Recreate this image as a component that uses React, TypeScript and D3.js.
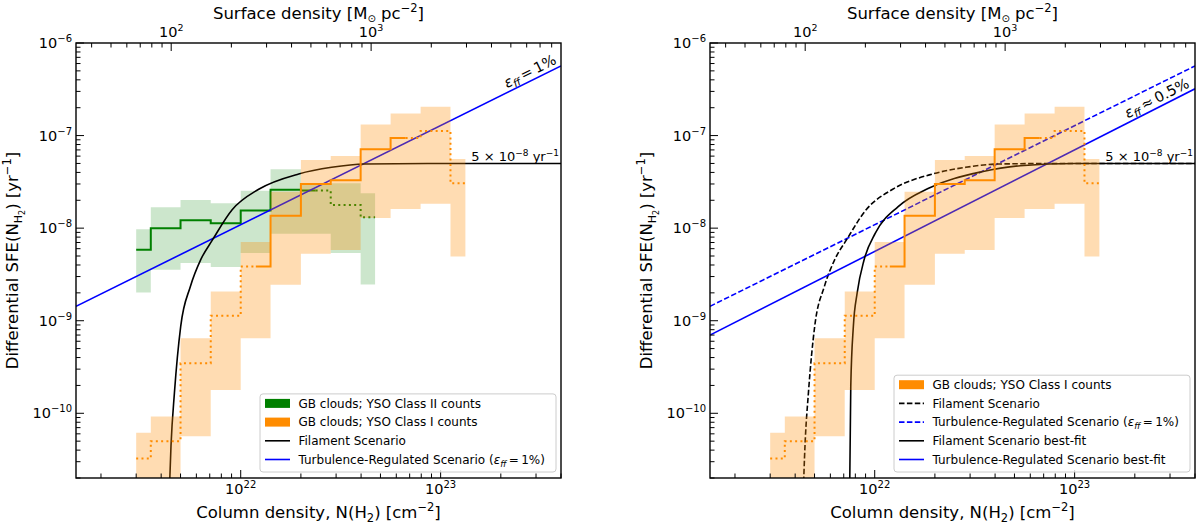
import React from "react";
import * as d3 from "d3";

// axis ranges
const X_DOMAIN: [number, number] = [1.5e21, 4e23];
const Y_DOMAIN: [number, number] = [2e-11, 1e-6];
const N_PER_SIGMA = 4.49e19; // cm^-2 per Msun pc^-2

// GB clouds; YSO Class II counts
const CLASS2_EDGES = [3.0e21, 3.55e21, 5.0e21, 7.08e21, 1.0e22, 1.41e22, 2.0e22, 2.82e22, 3.98e22, 4.7e22];
const CLASS2_SFE = [5.83e-9, 1.0e-8, 1.22e-8, 1.13e-8, 1.55e-8, 2.6e-8, 2.55e-8, 1.78e-8, 1.31e-8];
const CLASS2_LO = [2.02e-9, 3.56e-9, 4.2e-9, 3.8e-9, 5.4e-9, 8.7e-9, 8.7e-9, 5.4e-9, 2.46e-9];
const CLASS2_HI = [9.75e-9, 1.68e-8, 2.02e-8, 1.86e-8, 2.54e-8, 4.33e-8, 3.05e-8, 3.05e-8, 2.38e-8];
const CLASS2_SOLID: [number, number] = [3.0e21, 2.37e22];

// GB clouds; YSO Class I counts
const CLASS1_EDGES = [3.0e21, 3.55e21, 5.0e21, 7.08e21, 1.0e22, 1.41e22, 2.0e22, 2.82e22, 3.98e22, 5.62e22, 7.94e22, 1.12e23, 1.33e23];
const CLASS1_SFE = [3.24e-11, 5.0e-11, 3.47e-10, 1.13e-9, 3.86e-9, 1.36e-8, 3.0e-8, 3.3e-8, 7.1e-8, 9.4e-8, 1.12e-7, 3.05e-8];
const CLASS1_LO = [1e-11, 1e-11, 5.64e-11, 1.78e-10, 6.46e-10, 2.45e-9, 5.3e-9, 5.8e-9, 1.29e-8, 1.61e-8, 1.83e-8, 4.94e-9];
const CLASS1_HI = [6.18e-11, 9.26e-11, 6.46e-10, 2.07e-9, 7.1e-9, 2.48e-8, 5.45e-8, 6.0e-8, 1.32e-7, 1.73e-7, 2.05e-7, 5.6e-8];
const CLASS1_SOLID: [number, number] = [1.19e22, 6.68e22];

// turbulence-regulated scenario (straight in log-log)
const TURB_N = [1.5e21, 4e23];
const TURB_SFE = [1.43e-9, 5.65e-7];
const TURB_FIT_SFE = [7.0e-10, 3.2e-7];

// filament scenario
const FIL_N = [4.37e21, 4.48e21, 4.66e21, 5.01e21, 5.6e21, 6.31e21, 7.21e21, 9.06e21, 1.23e22, 1.95e22, 2.85e22, 4.18e22, 8.63e22, 4e23];
const FIL_SFE = [1e-11, 4.47e-11, 1.66e-10, 8.7e-10, 2.34e-9, 4.57e-9, 7.41e-9, 1.58e-8, 2.63e-8, 3.85e-8, 4.54e-8, 4.93e-8, 5.0e-8, 5.0e-8];
const FIL_FIT_N = [7.48e21, 7.59e21, 7.82e21, 8.17e21, 8.85e21, 1.007e22, 1.31e22, 1.86e22, 3.44e22, 5.35e22, 1e23, 4e23];
const FIL_FIT_SFE = [1e-11, 1.96e-10, 8.7e-10, 2.0e-9, 4.55e-9, 8.83e-9, 1.71e-8, 2.7e-8, 4.07e-8, 4.73e-8, 5.0e-8, 5.0e-8];

const PLATEAU = 5e-8;
const TICK_POWERS_SIGMA = [2, 3];

const GREEN = "#008000";
const ORANGE = "#ff8c00";
const BLUE = "#0000ff";
const FONT = "DejaVu Sans, sans-serif";

const TOP = 43;
const BOTTOM = 478;
const PW = 485;

type Pt = [number, number];

function stepPts(edges: number[], vals: number[]): Pt[] {
  return vals.flatMap((v, i) => [[edges[i], v], [edges[i + 1], v]] as Pt[]);
}

function clipSteps(pts: Pt[], lo: number, hi: number): Pt[] {
  const out: Pt[] = [];
  for (let i = 0; i < pts.length - 1; i++) {
    const [xa, ya] = pts[i];
    const [xb, yb] = pts[i + 1];
    if (xa === xb) {
      if (xa >= lo && xa <= hi) out.push([xa, ya], [xb, yb]);
    } else {
      const a = Math.max(xa, lo);
      const b = Math.min(xb, hi);
      if (a < b) out.push([a, ya], [b, ya]);
    }
  }
  return out;
}

const isMajor = (t: number) => Math.abs(Math.log10(t) - Math.round(Math.log10(t))) < 1e-6;

function Pow10({ t, sup = 10, raise = 6 }: { t: number; sup?: number; raise?: number }) {
  const e = Math.round(Math.log10(t));
  return (
    <>
      <tspan>10</tspan>
      <tspan dy={-raise} fontSize={sup}>{e < 0 ? "\u2212" + -e : String(e)}</tspan>
    </>
  );
}

type Curve = { n: number[]; sfe: number[]; color: string; dash?: string; smooth?: boolean };
type LegendItem = { kind: "patch" | "line"; color: string; dash?: string; label: React.ReactNode };

const epsTurb = (
  <>
    (<tspan fontStyle="italic">ε</tspan>
    <tspan dy={3} fontSize={8.5} fontStyle="italic">ff</tspan>
    <tspan dy={-3}>{"\u2009=\u20091%)"}</tspan>
  </>
);

function Panel({
  idx,
  left,
  showClass2,
  curves,
  slope,
  slopeText,
  legend,
  legendWidth,
}: {
  idx: number;
  left: number;
  showClass2: boolean;
  curves: Curve[];
  slope: { sfe: number[]; at: number };
  slopeText: string;
  legend: LegendItem[];
  legendWidth: number;
}) {
  const right = left + PW;
  const x = d3.scaleLog().domain(X_DOMAIN).range([left, right]);
  const y = d3.scaleLog().domain(Y_DOMAIN).range([BOTTOM, TOP]);
  const sig = d3
    .scaleLog()
    .domain([X_DOMAIN[0] / N_PER_SIGMA, X_DOMAIN[1] / N_PER_SIGMA])
    .range([left, right]);

  const line = d3.line<Pt>().x((d) => x(d[0])).y((d) => y(d[1]));
  const smooth = d3.line<Pt>().x((d) => x(d[0])).y((d) => y(d[1])).curve(d3.curveMonotoneX);
  const area = d3
    .area<{ n: number; lo: number; hi: number }>()
    .x((d) => x(d.n))
    .y0((d) => y(d.lo))
    .y1((d) => y(d.hi));

  const band = (edges: number[], lo: number[], hi: number[]) =>
    area(lo.flatMap((l, i) => [{ n: edges[i], lo: l, hi: hi[i] }, { n: edges[i + 1], lo: l, hi: hi[i] }]));

  const steps = (edges: number[], vals: number[], solid: [number, number], color: string) => {
    const pts = stepPts(edges, vals);
    const parts = [
      { p: clipSteps(pts, -Infinity, solid[0]), dash: "2,3.3" },
      { p: clipSteps(pts, solid[0], solid[1]), dash: undefined },
      { p: clipSteps(pts, solid[1], Infinity), dash: "2,3.3" },
    ];
    return parts
      .filter((s) => s.p.length > 1)
      .map((s, i) => (
        <path key={i} d={line(s.p)!} fill="none" stroke={color} strokeWidth={2} strokeDasharray={s.dash} />
      ));
  };

  const clipId = `clip${idx}`;
  const xt = x.ticks();
  const yt = y.ticks();
  const st = sig.ticks();

  // slope label placement along its line
  const sx0 = x(TURB_N[0]);
  const sx1 = x(TURB_N[1]);
  const sy0 = y(slope.sfe[0]);
  const sy1 = y(slope.sfe[1]);
  const ang = (Math.atan2(sy1 - sy0, sx1 - sx0) * 180) / Math.PI;
  const lx = x(slope.at);
  const ly = sy0 + ((lx - sx0) / (sx1 - sx0)) * (sy1 - sy0);

  const boxRight = right - 5;
  const boxLeft = boxRight - legendWidth;
  const boxBottom = BOTTOM - 6;
  const rowH = 18.7;
  const boxTop = boxBottom - 12.5 - (legend.length - 1) * rowH - 9.5;

  return (
    <g fontFamily={FONT}>
      <defs>
        <clipPath id={clipId}>
          <rect x={left} y={TOP} width={PW} height={BOTTOM - TOP} />
        </clipPath>
      </defs>
      <g clipPath={`url(#${clipId})`}>
        {showClass2 && (
          <>
            <path d={band(CLASS2_EDGES, CLASS2_LO, CLASS2_HI)!} fill={GREEN} fillOpacity={0.2} />
            {steps(CLASS2_EDGES, CLASS2_SFE, CLASS2_SOLID, GREEN)}
          </>
        )}
        {curves.map((c, i) => (
          <path
            key={i}
            d={(c.smooth ? smooth : line)(c.n.map((n, j) => [n, c.sfe[j]] as Pt))!}
            fill="none"
            stroke={c.color}
            strokeWidth={1.6}
            strokeDasharray={c.dash}
          />
        ))}
        <path d={band(CLASS1_EDGES, CLASS1_LO, CLASS1_HI)!} fill={ORANGE} fillOpacity={0.3} />
        {steps(CLASS1_EDGES, CLASS1_SFE, CLASS1_SOLID, ORANGE)}
      </g>

      {/* slope annotation */}
      <text
        transform={`translate(${lx},${ly}) rotate(${ang})`}
        y={-4}
        textAnchor="middle"
        fontSize={14.5}
      >
        <tspan fontStyle="italic">ε</tspan>
        <tspan dy={3} fontSize={10.5} fontStyle="italic">ff</tspan>
        <tspan dy={-3}>{slopeText}</tspan>
      </text>
      <text x={right - 2} y={y(PLATEAU) - 2} textAnchor="end" fontSize={13}>
        5 × 10
        <tspan dy={-5} fontSize={9}>−8</tspan>
        <tspan dy={5}> yr</tspan>
        <tspan dy={-5} fontSize={9}>−1</tspan>
      </text>

      {/* ticks */}
      {xt.map((t, i) => (
        <line key={"xb" + i} x1={x(t)} x2={x(t)} y1={BOTTOM} y2={BOTTOM - (isMajor(t) ? 8 : 4.5)} stroke="#000" strokeWidth={1} />
      ))}
      {yt.map((t, i) => (
        <line key={"yl" + i} x1={left} x2={left + (isMajor(t) ? 8 : 4.5)} y1={y(t)} y2={y(t)} stroke="#000" strokeWidth={1} />
      ))}
      {st.map((t, i) => (
        <line key={"st" + i} x1={sig(t)} x2={sig(t)} y1={TOP} y2={TOP + (isMajor(t) ? 8 : 4.5)} stroke="#000" strokeWidth={1} />
      ))}

      {/* tick labels */}
      {xt.filter(isMajor).map((t, i) => (
        <text key={"xl" + i} x={x(t)} y={BOTTOM + 15.5} textAnchor="middle" fontSize={14.5}>
          <Pow10 t={t} />
        </text>
      ))}
      {yt.filter(isMajor).map((t, i) => (
        <text key={"ylb" + i} x={left - 4} y={y(t) + 5} textAnchor="end" fontSize={14.5}>
          <Pow10 t={t} />
        </text>
      ))}
      {TICK_POWERS_SIGMA.map((p) => (
        <text key={"sl" + p} x={sig(10 ** p)} y={TOP - 6.5} textAnchor="middle" fontSize={14.5}>
          <Pow10 t={10 ** p} sup={9.5} raise={5.5} />
        </text>
      ))}

      {/* axis titles */}
      <text x={(left + right) / 2} y={18.5} textAnchor="middle" fontSize={16.5}>
        Surface density [M
        <tspan dy={3} fontSize={10}>⊙</tspan>
        <tspan dy={-3}> pc</tspan>
        <tspan dy={-7} fontSize={11.5}>−2</tspan>
        <tspan dy={7}>]</tspan>
      </text>
      <text x={(left + right) / 2} y={518} textAnchor="middle" fontSize={16.5}>
        Column density, N(H
        <tspan dy={4} fontSize={11.5}>2</tspan>
        <tspan dy={-4}>) [cm</tspan>
        <tspan dy={-7} fontSize={11.5}>−2</tspan>
        <tspan dy={7}>]</tspan>
      </text>
      <text
        transform={`translate(${left - 58},${(TOP + BOTTOM) / 2}) rotate(-90)`}
        textAnchor="middle"
        fontSize={16.5}
      >
        Differential SFE(N
        <tspan dy={4} fontSize={11}>H</tspan>
        <tspan dy={2.5} fontSize={8}>2</tspan>
        <tspan dy={-6.5}>) [yr</tspan>
        <tspan dy={-7} fontSize={11.5}>−1</tspan>
        <tspan dy={7}>]</tspan>
      </text>

      {/* legend */}
      <rect
        x={boxLeft}
        y={boxTop}
        width={legendWidth}
        height={boxBottom - boxTop}
        rx={3}
        fill="#fff"
        fillOpacity={0.8}
        stroke="#cccccc"
        strokeWidth={1}
      />
      {legend.map((it, i) => {
        const ry = boxBottom - 12.5 - (legend.length - 1 - i) * rowH;
        return (
          <g key={"lg" + i}>
            {it.kind === "patch" ? (
              <rect x={boxLeft + 5} y={ry - 4.5} width={25} height={9} fill={it.color} />
            ) : (
              <line
                x1={boxLeft + 5}
                x2={boxLeft + 30}
                y1={ry}
                y2={ry}
                stroke={it.color}
                strokeWidth={1.6}
                strokeDasharray={it.dash}
              />
            )}
            <text x={boxLeft + 38.5} y={ry + 4.3} fontSize={12}>
              {it.label}
            </text>
          </g>
        );
      })}

      <rect x={left} y={TOP} width={PW} height={BOTTOM - TOP} fill="none" stroke="#000" strokeWidth={1.4} />
    </g>
  );
}

export default function App() {
  return (
    <div style={{ position: "absolute", left: 0, top: 0, background: "#fff" }}>
      <svg width={1200} height={525} viewBox="0 0 1200 525">
        <rect width={1200} height={525} fill="#fff" />
        <Panel
          idx={0}
          left={76}
          showClass2={true}
          curves={[
            { n: TURB_N, sfe: TURB_SFE, color: BLUE },
            { n: FIL_N, sfe: FIL_SFE, color: "#000", smooth: true },
          ]}
          slope={{ sfe: TURB_SFE, at: 2.93e23 }}
          slopeText={"\u2009=\u20091%"}
          legendWidth={296}
          legend={[
            { kind: "patch", color: GREEN, label: "GB clouds; YSO Class II counts" },
            { kind: "patch", color: ORANGE, label: "GB clouds; YSO Class I counts" },
            { kind: "line", color: "#000", label: "Filament Scenario" },
            { kind: "line", color: BLUE, label: <>Turbulence-Regulated Scenario {epsTurb}</> },
          ]}
        />
        <Panel
          idx={1}
          left={710}
          showClass2={false}
          curves={[
            { n: TURB_N, sfe: TURB_SFE, color: BLUE, dash: "5.5,2.4" },
            { n: FIL_N, sfe: FIL_SFE, color: "#000", dash: "5.5,2.4", smooth: true },
            { n: TURB_N, sfe: TURB_FIT_SFE, color: BLUE },
            { n: FIL_FIT_N, sfe: FIL_FIT_SFE, color: "#000", smooth: true },
          ]}
          slope={{ sfe: TURB_FIT_SFE, at: 2.7e23 }}
          slopeText={"\u2009≈\u20090.5%"}
          legendWidth={296}
          legend={[
            { kind: "patch", color: ORANGE, label: "GB clouds; YSO Class I counts" },
            { kind: "line", color: "#000", dash: "5.5,2.4", label: "Filament Scenario" },
            { kind: "line", color: BLUE, dash: "5.5,2.4", label: <>Turbulence-Regulated Scenario {epsTurb}</> },
            { kind: "line", color: "#000", label: "Filament Scenario best-fit" },
            { kind: "line", color: BLUE, label: "Turbulence-Regulated Scenario best-fit" },
          ]}
        />
      </svg>
    </div>
  );
}
